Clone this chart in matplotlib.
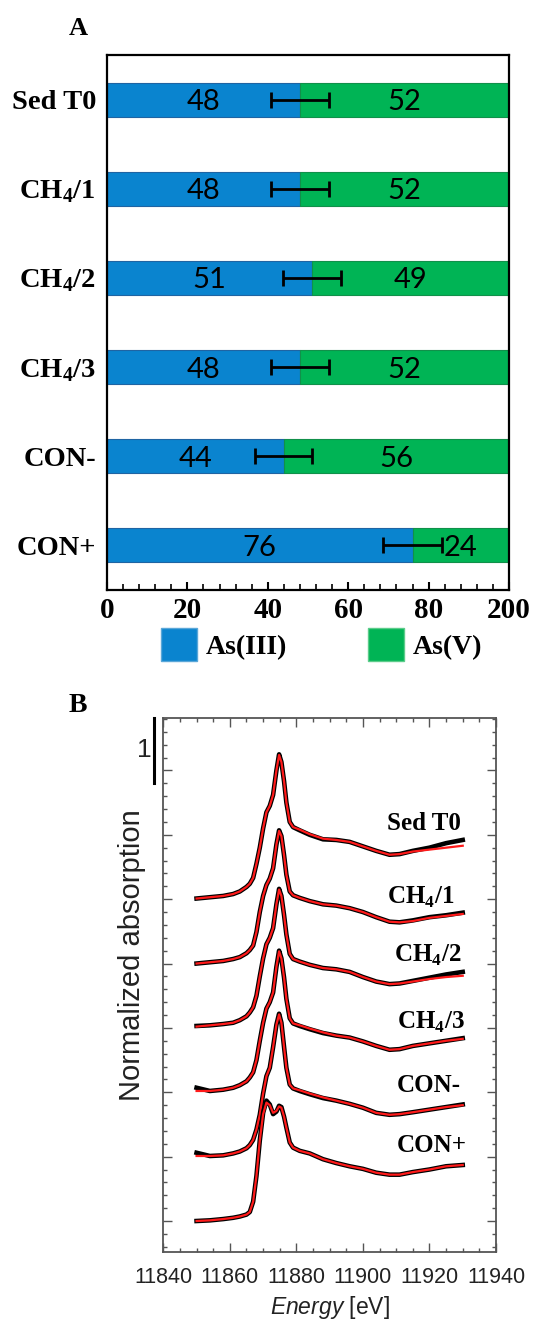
import matplotlib
matplotlib.use("Agg")
import matplotlib.pyplot as plt
from matplotlib.ticker import MultipleLocator
from matplotlib.patches import Patch
from matplotlib.transforms import blended_transform_factory

plt.rcParams["mathtext.fontset"] = "custom"
plt.rcParams["mathtext.rm"] = "Liberation Serif:bold"
plt.rcParams["mathtext.it"] = "Liberation Sans:italic"

SERIF = "Liberation Serif"
SANS = "Liberation Sans"
BLUE = "#0a84cf"
GREEN = "#00b455"

# Panel A: As speciation (%)
samples = ["Sed T0", "CH$_4$/1", "CH$_4$/2", "CH$_4$/3", "CON-", "CON+"]
as3 = [48, 48, 51, 48, 44, 76]
as5 = [52, 52, 49, 52, 56, 24]
as_err = [7.3, 7.2, 7.2, 7.3, 7.1, 7.3]
x_ticks = [0, 20, 40, 60, 80, 100]
x_tick_labels = ["0", "20", "40", "60", "80", "200"]

# Panel B: XANES spectra (normalized), data and fit
energy = [11850, 11854, 11858, 11861, 11863, 11865, 11866, 11867, 11868, 11869,
          11870, 11871, 11872, 11873, 11874, 11874.8, 11875.5, 11876.3, 11877, 11878,
          11879, 11881, 11884, 11888, 11892, 11896, 11900, 11904, 11908, 11911,
          11915, 11920, 11925, 11930]
sed_t0_data = [0.01, 0.03, 0.05, 0.08, 0.12, 0.19, 0.24, 0.33, 0.55, 0.80,
               1.10, 1.35, 1.45, 1.62, 2.00, 2.25, 2.13, 1.83, 1.50, 1.20,
               1.12, 1.07, 1.00, 0.93, 0.92, 0.89, 0.82, 0.75, 0.69, 0.70,
               0.75, 0.80, 0.87, 0.92]
sed_t0_fit = [0.01, 0.03, 0.05, 0.08, 0.12, 0.19, 0.24, 0.33, 0.55, 0.80,
              1.10, 1.35, 1.45, 1.62, 2.00, 2.24, 2.13, 1.83, 1.50, 1.20,
              1.12, 1.08, 1.01, 0.94, 0.92, 0.89, 0.82, 0.75, 0.69, 0.70,
              0.74, 0.77, 0.80, 0.83]
ch4_1_data = [0.00, 0.02, 0.04, 0.07, 0.10, 0.16, 0.21, 0.28, 0.49, 0.80,
              1.05, 1.22, 1.32, 1.48, 1.85, 2.07, 1.98, 1.68, 1.38, 1.12,
              1.06, 1.02, 0.97, 0.92, 0.90, 0.86, 0.80, 0.72, 0.65, 0.64,
              0.67, 0.72, 0.75, 0.79]
ch4_1_fit = [0.00, 0.02, 0.04, 0.07, 0.10, 0.16, 0.21, 0.28, 0.49, 0.80,
             1.05, 1.22, 1.32, 1.48, 1.85, 2.06, 1.98, 1.68, 1.38, 1.12,
             1.06, 1.02, 0.97, 0.92, 0.90, 0.86, 0.80, 0.72, 0.65, 0.64,
             0.66, 0.71, 0.74, 0.77]
ch4_2_data = [0.03, 0.04, 0.06, 0.08, 0.12, 0.18, 0.24, 0.32, 0.50, 0.80,
              1.08, 1.30, 1.40, 1.55, 1.92, 2.16, 2.05, 1.75, 1.45, 1.15,
              1.07, 1.03, 0.98, 0.93, 0.91, 0.87, 0.79, 0.72, 0.68, 0.69,
              0.73, 0.78, 0.83, 0.87]
ch4_2_fit = [0.02, 0.04, 0.06, 0.08, 0.12, 0.18, 0.24, 0.32, 0.50, 0.80,
             1.08, 1.30, 1.40, 1.55, 1.92, 2.15, 2.05, 1.75, 1.45, 1.15,
             1.07, 1.03, 0.98, 0.93, 0.91, 0.87, 0.79, 0.72, 0.68, 0.69,
             0.72, 0.76, 0.79, 0.81]
ch4_3_data = [0.07, 0.02, 0.04, 0.07, 0.11, 0.17, 0.23, 0.31, 0.50, 0.80,
              1.08, 1.30, 1.40, 1.55, 1.95, 2.20, 2.08, 1.78, 1.45, 1.15,
              1.07, 1.03, 0.98, 0.92, 0.88, 0.85, 0.79, 0.72, 0.66, 0.67,
              0.72, 0.76, 0.80, 0.84]
ch4_3_fit = [0.02, 0.02, 0.04, 0.07, 0.11, 0.17, 0.23, 0.31, 0.50, 0.80,
             1.08, 1.30, 1.40, 1.55, 1.95, 2.19, 2.08, 1.78, 1.45, 1.15,
             1.07, 1.04, 0.99, 0.93, 0.88, 0.85, 0.79, 0.72, 0.66, 0.67,
             0.72, 0.76, 0.80, 0.83]
con_minus_data = [0.06, 0.01, 0.02, 0.05, 0.08, 0.13, 0.18, 0.26, 0.42, 0.65,
                  0.98, 1.25, 1.38, 1.70, 2.05, 2.22, 2.08, 1.70, 1.38, 1.12,
                  1.06, 1.02, 0.97, 0.91, 0.87, 0.82, 0.76, 0.68, 0.65, 0.66,
                  0.69, 0.73, 0.77, 0.81]
con_minus_fit = [0.01, 0.01, 0.02, 0.05, 0.08, 0.13, 0.18, 0.26, 0.42, 0.65,
                 0.98, 1.25, 1.38, 1.70, 2.05, 2.21, 2.08, 1.70, 1.38, 1.12,
                 1.06, 1.03, 0.98, 0.92, 0.87, 0.82, 0.76, 0.68, 0.65, 0.66,
                 0.69, 0.73, 0.77, 0.80]
con_plus_data = [0.00, 0.01, 0.03, 0.05, 0.07, 0.10, 0.14, 0.30, 0.70, 1.25,
                 1.68, 1.87, 1.81, 1.66, 1.70, 1.79, 1.77, 1.62, 1.45, 1.22,
                 1.14, 1.09, 1.05, 0.96, 0.90, 0.85, 0.81, 0.75, 0.72, 0.72,
                 0.76, 0.80, 0.85, 0.87]
con_plus_fit = [0.00, 0.01, 0.03, 0.05, 0.07, 0.10, 0.14, 0.30, 0.70, 1.25,
                1.66, 1.84, 1.80, 1.68, 1.71, 1.78, 1.76, 1.62, 1.45, 1.22,
                1.14, 1.09, 1.05, 0.96, 0.90, 0.85, 0.81, 0.75, 0.72, 0.72,
                0.76, 0.80, 0.85, 0.87]
spectra_data = [sed_t0_data, ch4_1_data, ch4_2_data, ch4_3_data, con_minus_data, con_plus_data]
spectra_fit = [sed_t0_fit, ch4_1_fit, ch4_2_fit, ch4_3_fit, con_minus_fit, con_plus_fit]
offsets = [5, 4, 3, 2, 1, 0]
scale_bar = 1

# Label positions in panel B (data coords)
label_x = [11907.3, 11907.3, 11909.3, 11910.2, 11910.2, 11910.2]
label_y = [6.07, 4.93, 4.02, 2.99, 2.00, 1.07]


def main():
    fig = plt.figure(figsize=(5.33, 13.2), dpi=100)
    W, H = 533.0, 1320.0

    # ---------------- Panel A ----------------
    axA = fig.add_axes([107 / W, 1 - 590 / H, 402 / W, 535 / H])
    ypos = list(range(len(samples)))
    axA.barh(ypos, as3, height=0.38, color=BLUE, edgecolor="#1f64a3", linewidth=0.8)
    axA.barh(ypos, as5, left=as3, height=0.38, color=GREEN, edgecolor="#11904a", linewidth=0.8)
    axA.errorbar(as3, ypos, xerr=as_err, fmt="none", ecolor="black",
                 elinewidth=2, capsize=5.5, capthick=2)
    for i in ypos:
        axA.text(as3[i] / 2, i, str(as3[i]), ha="center", va="center_baseline",
                 fontsize=21, family="Lato")
        axA.text(as3[i] + as5[i] / 2, i, str(as5[i]), ha="center", va="center_baseline",
                 fontsize=21, family="Lato")

    axA.set_xlim(0, 100)
    axA.set_ylim(5.5, -0.5)
    axA.set_yticks(ypos)
    axA.set_yticklabels(samples, family=SERIF, fontweight="bold", fontsize=20.5)
    axA.tick_params(axis="y", length=0, pad=8)
    axA.set_xticks(x_ticks)
    axA.set_xticklabels(x_tick_labels, family=SERIF, fontweight="bold", fontsize=21)
    axA.xaxis.set_minor_locator(MultipleLocator(4))
    axA.tick_params(axis="x", which="major", direction="in", length=6, width=1.5, pad=5)
    axA.tick_params(axis="x", which="minor", direction="in", length=4, width=1.2)
    for s in axA.spines.values():
        s.set_linewidth(1.6)

    handles = [Patch(facecolor=BLUE, edgecolor="#5aa7d8"),
               Patch(facecolor=GREEN, edgecolor="#5ccc8a")]
    axA.legend(handles, ["As(III)", "As(V)"], ncol=2, frameon=False,
               prop=dict(family=SERIF, weight="bold", size=20),
               handlelength=1.3, handleheight=1.47, handletextpad=0.32,
               columnspacing=2.9, loc="upper center", bbox_to_anchor=(0.534, -0.071),
               borderpad=0, borderaxespad=0)

    fig.text(78.5 / W, 1 - 28.5 / H, "A", ha="center", va="center",
             family=SERIF, fontweight="bold", fontsize=19)

    # ---------------- Panel B ----------------
    axB = fig.add_axes([163.3 / W, 1 - 1251.7 / H, 332.7 / W, 533.4 / H])
    for d, f, off in zip(spectra_data, spectra_fit, offsets):
        axB.plot(energy, [v + off for v in d], color="black", linewidth=3.3,
                 solid_joinstyle="round")
        axB.plot(energy, [v + off for v in f], color="#ff1a1a", linewidth=1.6)

    axB.set_xlim(11840, 11940)
    axB.set_ylim(-0.477, 7.81)
    axB.xaxis.set_major_locator(MultipleLocator(20))
    axB.xaxis.set_minor_locator(MultipleLocator(5))
    axB.yaxis.set_major_locator(MultipleLocator(1))
    axB.yaxis.set_minor_locator(MultipleLocator(0.2))
    axB.tick_params(which="both", direction="in", top=True, right=True,
                    color="#555555", labelleft=False)
    axB.tick_params(which="major", length=6.5, width=1.0)
    axB.tick_params(which="minor", length=3, width=1.0)
    axB.tick_params(axis="x", pad=11, labelsize=15.5, labelcolor="#222222")
    for lab in axB.get_xticklabels():
        lab.set_family(SANS)
    for s in axB.spines.values():
        s.set_linewidth(1.3)
        s.set_color("#555555")

    for name, lx, ly in zip(samples, label_x, label_y):
        axB.text(lx, ly, name, ha="left", va="baseline", family=SERIF,
                 fontweight="bold", fontsize=18)

    # scale bar
    top = axB.get_ylim()[1]
    blend = blended_transform_factory(axB.transAxes, axB.transData)
    axB.plot([-0.028, -0.028], [top - scale_bar, top], color="black",
             linewidth=2.2, transform=blend, clip_on=False)
    axB.text(-0.058, top - scale_bar / 2, str(scale_bar), transform=blend,
             ha="center", va="center", family=SANS, fontsize=19, color="#222222")

    axB.text(-0.0926, 0.556, "Normalized absorption", transform=axB.transAxes,
             rotation=90, ha="center", va="center", family=SANS, fontsize=21,
             color="#222222")
    axB.text(0.5, -0.1055, r"$\mathit{Energy}$ [eV]", transform=axB.transAxes,
             ha="center", va="center", family=SANS, fontsize=16.5, color="#222222")

    fig.text(78.3 / W, 1 - 705 / H, "B", ha="center", va="center",
             family=SERIF, fontweight="bold", fontsize=20)

    fig.savefig("out.png", dpi=100)


if __name__ == "__main__":
    main()
